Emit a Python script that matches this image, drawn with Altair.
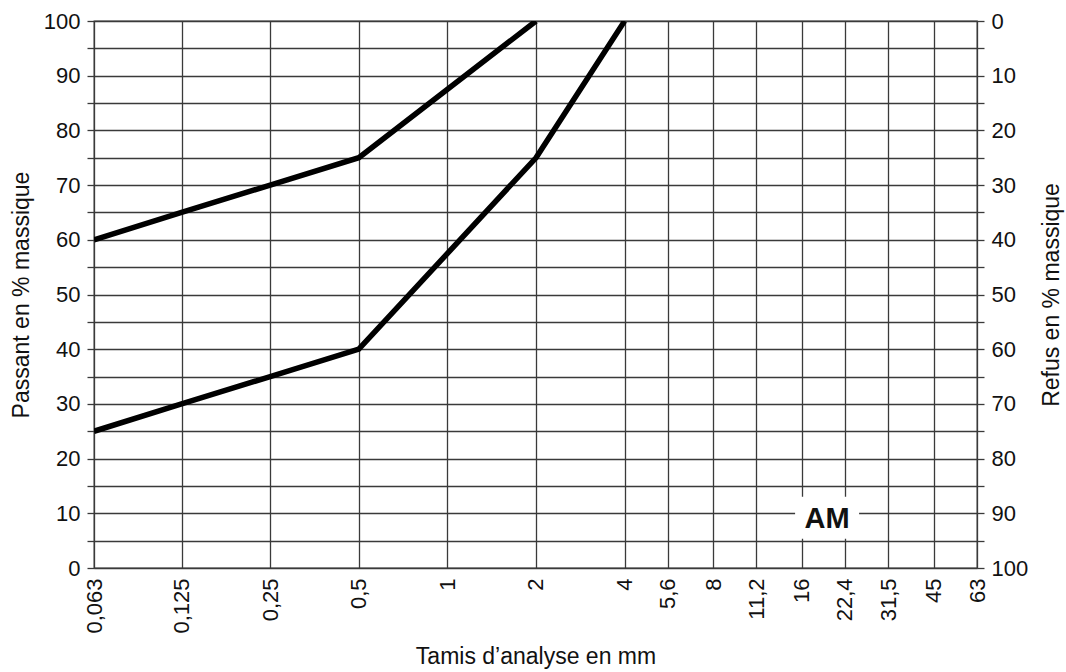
import altair as alt
import pandas as pd

# Sieve sizes (mm) shown on the x axis
tamis_ticks = [0.063, 0.125, 0.25, 0.5, 1, 2, 4, 5.6, 8, 11.2, 16, 22.4, 31.5, 45, 63]
# y ticks (passant %)
y_ticks = [0, 5, 10, 15, 20, 25, 30, 35, 40, 45, 50, 55, 60, 65, 70, 75, 80, 85, 90, 95, 100]

# Upper envelope
upper_tamis = [0.063, 0.125, 0.25, 0.5, 2]
upper_passant = [60, 65, 70, 75, 100]
# Lower envelope
lower_tamis = [0.063, 0.125, 0.25, 0.5, 2, 4]
lower_passant = [25, 30, 35, 40, 75, 100]

# Annotation
label_text = ["AM"]
label_tamis = [19.5]
label_passant = [9.2]

lines = pd.DataFrame({
    "tamis": upper_tamis + lower_tamis,
    "passant": upper_passant + lower_passant,
    "courbe": ["sup"] * len(upper_tamis) + ["inf"] * len(lower_tamis),
    "ordre": list(range(len(upper_tamis))) + list(range(len(lower_tamis))),
})
ann = pd.DataFrame({"txt": label_text, "tamis": label_tamis, "passant": label_passant})

FONT = "Liberation Sans"
GRID = "#3a3a3a"

xscale = alt.Scale(type="log", base=2, domain=[0.063, 63], nice=False)
yscale = alt.Scale(domain=[0, 100], nice=False, zero=True)

x_axis = alt.Axis(
    values=tamis_ticks,
    labelExpr="replace(toString(datum.value), '.', ',')",
    labelAngle=270,
    labelAlign="right",
    labelBaseline="middle",
    labelPadding=10,
    ticks=False,
    tickSize=0,
    domain=False,
    grid=True,
    gridColor=GRID,
    gridWidth=1.3,
    gridOpacity=1,
    labelFont=FONT,
    labelFontSize=22,
    labelColor="#111",
    labelOverlap=False,
    title="Tamis d\u2019analyse en mm",
    titleFont=FONT,
    titleFontSize=23,
    titleFontWeight="normal",
    titleColor="#111",
    titleBaseline="middle",
    titleY=88,
)

y_left = alt.Axis(
    orient="left",
    values=y_ticks,
    labelExpr="datum.value % 10 === 0 ? datum.value : ''",
    tickSize=7,
    tickColor=GRID,
    tickWidth=1.3,
    labelPadding=7,
    domain=False,
    grid=True,
    gridColor=GRID,
    gridWidth=1.3,
    gridOpacity=1,
    labelFont=FONT,
    labelFontSize=22,
    labelColor="#111",
    labelOverlap=False,
    title="Passant en % massique",
    titleFont=FONT,
    titleFontSize=23,
    titleFontWeight="normal",
    titleColor="#111",
    titleAngle=270,
    titleAlign="center",
    titleBaseline="middle",
    titleX=-73,
    titleY=273.5,
)

y_right = alt.Axis(
    orient="right",
    values=y_ticks,
    labelExpr="datum.value % 10 === 0 ? 100 - datum.value : ''",
    tickSize=7,
    tickColor=GRID,
    tickWidth=1.3,
    labelPadding=7,
    domain=False,
    grid=False,
    labelFont=FONT,
    labelFontSize=22,
    labelColor="#111",
    labelOverlap=False,
    title="Refus en % massique",
    titleFont=FONT,
    titleFontSize=23,
    titleFontWeight="normal",
    titleColor="#111",
    titleAngle=270,
    titleAlign="center",
    titleBaseline="middle",
    titleX=74,
    titleY=273.5,
)

line_layer = alt.Chart(lines).mark_line(color="black", strokeWidth=5.5, clip=True).encode(
    x=alt.X("tamis:Q", scale=xscale, axis=x_axis),
    y=alt.Y("passant:Q", scale=yscale, axis=y_left),
    detail="courbe:N",
    order="ordre:Q",
)

box_layer = alt.Chart(ann).mark_point(
    shape="M-1,-0.656 L1,-0.656 L1,0.656 L-1,0.656 Z",
    size=4096, filled=True, fill="white", opacity=1, strokeWidth=0,
).encode(
    x=alt.X("tamis:Q", scale=xscale, axis=x_axis),
    y=alt.Y("passant:Q", scale=yscale, axis=y_right),
)

text_layer = alt.Chart(ann).mark_text(
    font=FONT, fontSize=29, fontWeight="bold", color="#111", align="center", baseline="middle", dy=1,
).encode(
    x=alt.X("tamis:Q", scale=xscale, axis=x_axis),
    y=alt.Y("passant:Q", scale=yscale, axis=None),
    text="txt:N",
)

chart = alt.layer(line_layer, box_layer, text_layer).resolve_axis(y="independent").properties(
    width=883,
    height=547,
    autosize=alt.AutoSizeParams(type="none"),
    padding={"left": 94, "top": 21, "right": 89, "bottom": 104},
    background="white",
).configure_view(stroke=GRID, strokeWidth=1.3)

chart.save("out.html", embed_options={"renderer": "svg", "actions": False})
